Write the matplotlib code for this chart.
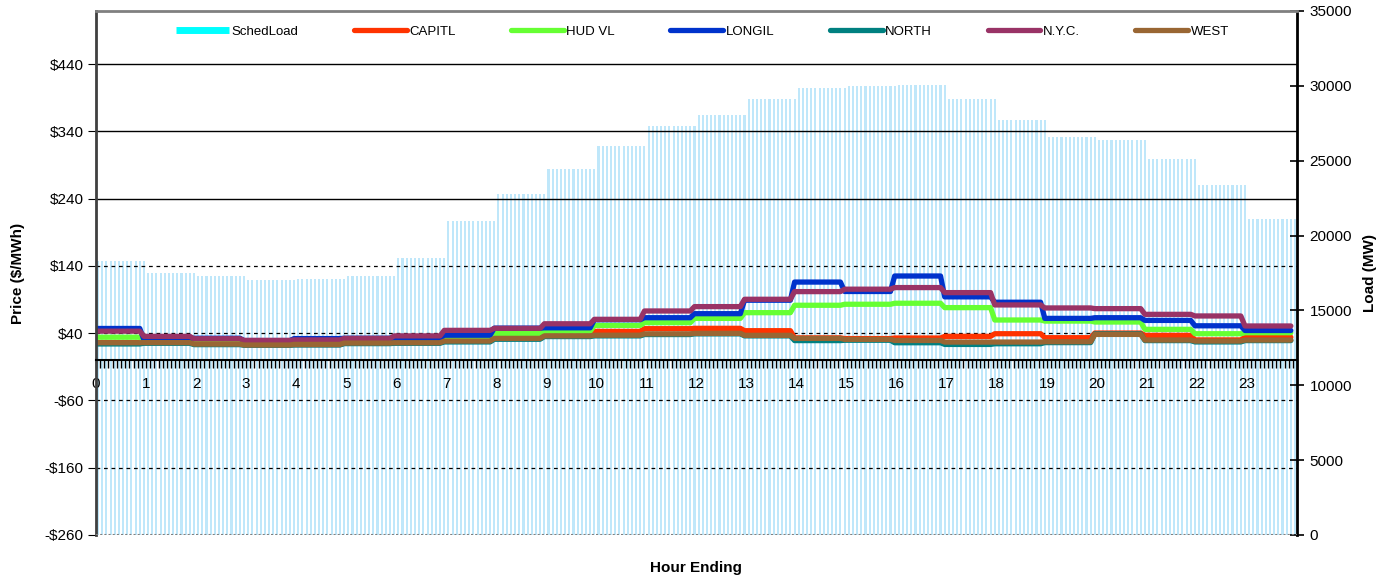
# Real-time zonal prices (5 min) with scheduled load bars
import numpy as np
import matplotlib.pyplot as plt

plt.rcParams["font.family"] = ["Liberation Sans", "DejaVu Sans"]

hours = list(range(24))
hour_labels = [str(h) for h in hours]

# hourly values, each hour has 12 five-minute points
sched_load = [18330, 17490, 17290, 17000, 17070, 17330, 18470, 21000, 22800, 24470, 26000, 27330,
              28070, 29130, 29870, 30000, 30070, 29130, 27730, 26600, 26400, 25130, 23400, 21130]
capitl = [26, 26, 24, 23, 23, 25, 26, 28, 32, 36, 42.7, 46.7,
          47.2, 43.7, 33, 32, 32.8, 35.3, 39.2, 33.3, 40.2, 36.8, 30, 34]
hud_vl = [34, 27, 24, 23, 24, 26, 27, 33, 39.7, 43, 51.6, 55.6,
          62, 70.5, 81.5, 83, 84.5, 78, 59.6, 58, 56.6, 45.7, 39.2, 40.7]
longil = [47, 30, 32.5, 29, 32, 32.5, 32, 37, 47.5, 48, 60, 63,
          69, 89, 116, 102, 125, 94, 86, 62, 63, 59, 51, 44]
north = [24, 25, 23, 22, 22.5, 24.5, 25, 27, 31, 35, 36, 38,
         39, 36, 29, 29.5, 25.8, 23.3, 24.3, 26, 39, 29, 27, 29]
nyc = [43, 35.3, 31.8, 29.3, 30, 32.3, 36, 44.2, 47.2, 54, 60.6, 73,
       79.5, 90.4, 101.8, 105.4, 107.8, 100.3, 82, 77.5, 76.5, 68, 65.6, 50.7]
west = [25.8, 26, 23.8, 22.4, 23.3, 25.3, 25.8, 28.3, 32.3, 36, 37, 39,
        39.7, 36.8, 32.3, 30.8, 29.2, 26.8, 26.8, 27.3, 38.2, 29.8, 28.3, 29.8]

zones = ["CAPITL", "HUD VL", "LONGIL", "NORTH", "N.Y.C.", "WEST"]
zone_prices = [capitl, hud_vl, longil, north, nyc, west]
colours = ["#ff3300", "#66ff33", "#0033cc", "#008080", "#993366", "#996633"]

x = np.arange(24 * 12) / 12.0 + 1 / 24.0
x_line = np.arange(24 * 12) / 12.0 + 1 / 24.0 - 1 / 12.0

fig = plt.figure(figsize=(13.87, 5.77), dpi=100)
ax = fig.add_axes([0.0692, 0.0728, 0.866, 0.9082])
ax2 = ax.twinx()

ax2.bar(x, np.repeat(sched_load, 12), width=1 / 24.0, color="#bfe7fa", linewidth=0, zorder=1)
ax2.set_ylim(0, 35000)
ax2.set_yticks(range(0, 35001, 5000))
ax2.tick_params(axis="y", direction="inout", length=10, width=1.2, labelsize=11, pad=4)
ax2.set_ylabel("Load (MW)", fontsize=11, fontweight="bold", labelpad=8)

ax.set_zorder(ax2.get_zorder() + 1)
ax.patch.set_visible(False)

handles = []
leg = plt.Line2D([], [], color="#00ffff", lw=5, solid_capstyle="butt")
handles.append(leg)
for name, vals, c in zip(zones, zone_prices, colours):
    ln, = ax.plot(x_line, np.repeat(vals, 12), color=c, lw=3.8, label=name, solid_capstyle="round")
    handles.append(ln)

ax.set_xlim(0, 24)
ax.set_ylim(-260, 519)
yt = list(range(-260, 441, 100))
ax.set_yticks(yt)
ax.set_yticklabels([("-$%d" % -v) if v < 0 else ("$%d" % v) for v in yt])
ax.tick_params(axis="y", direction="out", length=6, labelsize=11, pad=3)

# gridlines: solid at top, dashed lower down
for v in yt[1:]:
    if v >= 240:
        ax.axhline(v, color="black", lw=1, zorder=0.5)
    else:
        ax.axhline(v, color="black", lw=0.9, ls=(0, (3, 3)), zorder=0.5)

ax.spines["bottom"].set_position(("data", 0))
ax.spines["bottom"].set_linewidth(1.5)
ax.set_xticks(hours)
ax.set_xticklabels(hour_labels)
ax.set_xticks(np.arange(0, 24, 1 / 12.0), minor=True)
ax.tick_params(axis="x", which="both", direction="out", length=6, width=1, labelsize=11, pad=6)
ax.axhline(-260, color="#808080", lw=1.5, ls=(0, (1, 1)), zorder=3)

ax.spines["top"].set_color("#808080")
ax.spines["top"].set_linewidth(2)
ax.spines["left"].set_color("#404040")
ax.spines["left"].set_linewidth(2)
ax.spines["right"].set_color("black")
ax.spines["right"].set_linewidth(2)
for s in ax2.spines.values():
    s.set_visible(False)

ax.set_ylabel("Price ($/MWh)", fontsize=11, fontweight="bold", labelpad=14)
fig.text(0.502, 0.009, "Hour Ending", ha="center", fontsize=11, fontweight="bold")

ax.legend(handles, ["SchedLoad"] + zones, loc="upper center", bbox_to_anchor=(0.505, 0.995),
          ncol=7, frameon=False, fontsize=9.5, handlelength=4, handletextpad=0.2,
          columnspacing=4.2)

plt.savefig("out.png", dpi=100)
